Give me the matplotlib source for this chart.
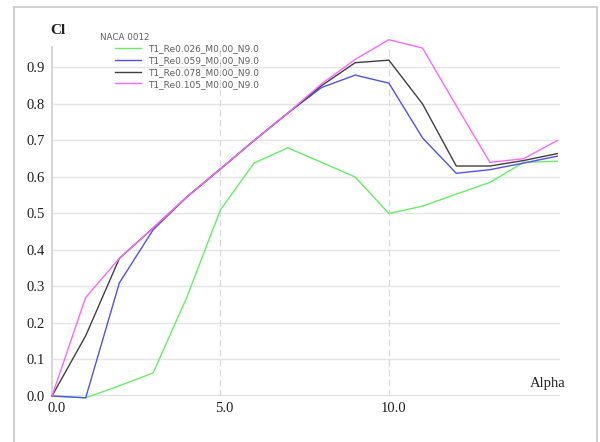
import matplotlib.pyplot as plt
import matplotlib.transforms as mtransforms
import numpy as np

# alpha values (deg)
alpha = list(range(16))

# Cl per Reynolds number
cl_026 = [0.0, -0.005, 0.028, 0.063, 0.27, 0.51, 0.638, 0.68, 0.64, 0.60, 0.50, 0.52, 0.553, 0.585, 0.64, 0.643]
cl_059 = [0.0, -0.005, 0.31, 0.455, 0.545, 0.622, 0.70, 0.775, 0.845, 0.879, 0.857, 0.707, 0.61, 0.62, 0.638, 0.657]
cl_078 = [0.0, 0.165, 0.377, 0.46, 0.545, 0.622, 0.70, 0.775, 0.85, 0.913, 0.92, 0.80, 0.63, 0.63, 0.645, 0.664]
cl_105 = [0.0, 0.27, 0.377, 0.46, 0.545, 0.622, 0.70, 0.775, 0.855, 0.922, 0.976, 0.953, 0.795, 0.64, 0.65, 0.70]

labels = ["T1_Re0.026_M0.00_N9.0", "T1_Re0.059_M0.00_N9.0",
          "T1_Re0.078_M0.00_N9.0", "T1_Re0.105_M0.00_N9.0"]
colors = ["#66ee66", "#5050ff", "#404040", "#ff66ff"]

xticks = [0.0, 5.0, 10.0]
yticks = [0.0, 0.1, 0.2, 0.3, 0.4, 0.5, 0.6, 0.7, 0.8, 0.9]

fig = plt.figure(figsize=(6, 4.42), dpi=100)
# grey frame round the whole picture
fig.patches.append(plt.Rectangle((14/600, -0.01), 583/600, 1 - 7/442 + 0.01,
                                 transform=fig.transFigure, fill=False,
                                 edgecolor="#c8c8c8", lw=1.2))
ax = fig.add_axes([52/600, 46/442, 508/600, 349/442])

lines = []
for y, c, lab in zip([cl_026, cl_059, cl_078, cl_105], colors, labels):
    l, = ax.plot(alpha, y, color=c, lw=1.0, label=lab, clip_on=False, zorder=3)
    lines.append(l)

ax.set_xlim(0, 15.08)
ax.set_ylim(0, 0.956)
ax.set_xticks(xticks)
ax.set_yticks(yticks)
ax.set_xticklabels(["%.1f" % v for v in xticks], family="Liberation Serif", fontsize=10.5)
ax.set_yticklabels(["%.1f" % v for v in yticks], family="Liberation Serif", fontsize=10.5)
ax.tick_params(length=0, pad=5, colors="#202020")
ax.tick_params(axis="x", pad=4)
shift = mtransforms.ScaledTranslation(3/72, 0, fig.dpi_scale_trans)
for t in ax.get_xticklabels():
    t.set_transform(t.get_transform() + shift)

ax.grid(axis="y", color="#e4e4e4", lw=1.0)
for v in [5.0, 10.0]:
    ax.axvline(v, color="#d8d8d8", lw=0.8, ls=(0, (6, 3)))
ax.axhline(0, color="#dcdcdc", lw=1.2)

for s in ["top", "right", "bottom"]:
    ax.spines[s].set_visible(False)
ax.spines["left"].set_color("#d0d0d0")
ax.spines["left"].set_linewidth(1.2)

fig.text(50/600, 1 - 31/442, "Cl", family="Liberation Serif", fontsize=11,
         weight="bold", color="#202020", va="center")
fig.text(530/600, 1 - 383/442, "Alpha", family="Liberation Serif", fontsize=10.5,
         color="#202020", va="center")

fig.text(100/600, 1 - 37/442, "NACA 0012", family="DejaVu Sans", fontsize=6.3,
         color="#606060", va="center")
leg = fig.legend(handles=lines, loc="upper left", bbox_to_anchor=(110/600, 1 - 40/442),
                 frameon=False, prop={"family": "DejaVu Sans", "size": 6.5},
                 handlelength=2.9, handletextpad=0.8, labelspacing=0.3, borderpad=0)
for t in leg.get_texts():
    t.set_color("#606060")

fig.savefig("out.png", dpi=100)
